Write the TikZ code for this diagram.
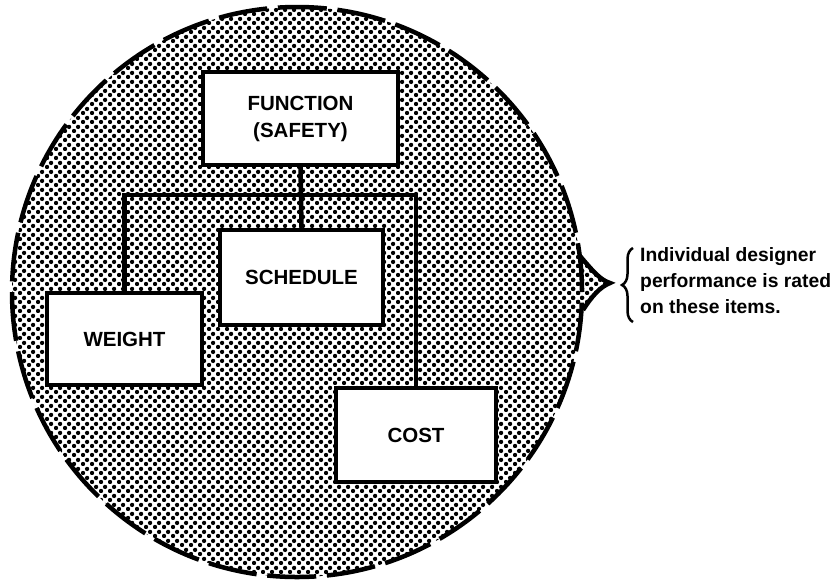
\documentclass[tikz,border=0pt]{standalone}
\usepackage{fontspec}
\setmainfont{Liberation Sans}
\usetikzlibrary{patterns,decorations.pathreplacing}
\pgfdeclarepatternformonly{halftone}{\pgfpointorigin}{\pgfpoint{9pt}{9pt}}{\pgfpoint{9pt}{9pt}}{%
  \pgfpathcircle{\pgfpoint{2.25pt}{2.25pt}}{2.4pt}%
  \pgfpathcircle{\pgfpoint{6.75pt}{6.75pt}}{2.4pt}%
  \pgfusepath{fill}}
\begin{document}
\begin{tikzpicture}[x=1pt,y=-1pt,
  box/.style={draw, line width=4.5pt, fill=white, inner sep=0pt, align=center,
    font=\bfseries\fontsize{20.5}{27}\selectfont},
  wire/.style={line width=4.5pt},
  rim/.style={line width=4.5pt}]
\useasboundingbox (0,0) rectangle (834,582);
% shaded circle
\fill[pattern=halftone] (297,292) circle[radius=285pt];
\fill[pattern=halftone] (580,256) .. controls (592,270) and (600,280) .. (610,283)
   .. controls (600,287) and (592,296) .. (583,310) -- (570,310) -- (570,256) -- cycle;
\draw[rim, dash pattern=on 49pt off 10.7pt] (297,292) circle[radius=285pt];
\draw[rim] (580,256) .. controls (592,270) and (600,280) .. (610,283)
   .. controls (600,287) and (592,296) .. (583,310);
% boxes
\node[box, minimum width=195pt, minimum height=93pt] (func) at (300.5,118.5) {FUNCTION\\(SAFETY)};
\node[box, minimum width=163pt, minimum height=95pt] (sched) at (301.5,277.5) {\raisebox{-9pt}{SCHEDULE}};
\node[box, minimum width=155pt, minimum height=92pt] (wt) at (124.5,339) {\raisebox{-10pt}{WEIGHT}};
\node[box, minimum width=160pt, minimum height=94pt] (cost) at (416,435) {\raisebox{-6pt}{COST}};
% connectors
\coordinate (bus) at (300,195);
\draw[wire] (func.south) -- (sched.north);
\draw[wire] (wt.north) |- (bus) -| (cost.north);
% note with brace
\node[anchor=west, align=left, inner sep=0pt,
  font=\bfseries\fontsize{19.3}{26}\selectfont] (note) at (640,281)
  {Individual designer\\performance is rated\\on these items.};
\coordinate (bt) at (633,248);
\coordinate (bb) at (633,322);
\draw[line width=2.5pt, decorate, decoration={brace, amplitude=11pt}] (bb) -- (bt);
\end{tikzpicture}
\end{document}
